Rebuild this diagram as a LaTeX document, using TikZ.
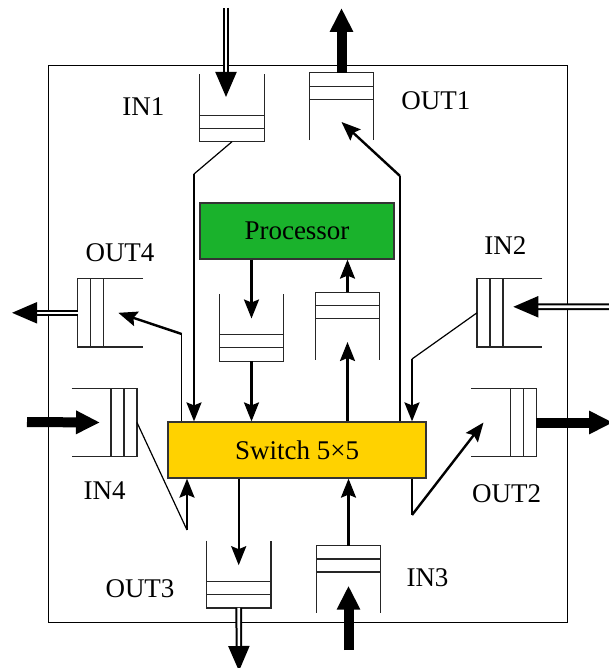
\documentclass[tikz,border=0pt]{standalone}
\usepackage{fontspec}
\setmainfont{Liberation Serif}
\usepackage{xcolor}
\usepackage{tikz}
\usetikzlibrary{arrows.meta}
\definecolor{procgreen}{RGB}{26,178,44}
\definecolor{swyellow}{RGB}{255,210,0}

% FIFO outlines, the letter gives the open side
\newcommand{\fifoN}[1]{\draw[qline] (#1.north west) -- (#1.south west) -- (#1.south east) -- (#1.north east)
  ([yshift=13.5pt]#1.south west) -- ([yshift=13.5pt]#1.south east)
  ([yshift=26.5pt]#1.south west) -- ([yshift=26.5pt]#1.south east);}
\newcommand{\fifoS}[1]{\draw[qline] (#1.south west) -- (#1.north west) -- (#1.north east) -- (#1.south east)
  ([yshift=-13.5pt]#1.north west) -- ([yshift=-13.5pt]#1.north east)
  ([yshift=-26.5pt]#1.north west) -- ([yshift=-26.5pt]#1.north east);}
\newcommand{\fifoE}[1]{\draw[qline] (#1.north east) -- (#1.north west) -- (#1.south west) -- (#1.south east)
  ([xshift=13pt]#1.north west) -- ([xshift=13pt]#1.south west)
  ([xshift=26pt]#1.north west) -- ([xshift=26pt]#1.south west);}
\newcommand{\fifoW}[1]{\draw[qline] (#1.north west) -- (#1.north east) -- (#1.south east) -- (#1.south west)
  ([xshift=-13pt]#1.north east) -- ([xshift=-13pt]#1.south east)
  ([xshift=-26pt]#1.north east) -- ([xshift=-26pt]#1.south east);}

\begin{document}
\begin{tikzpicture}[x=1pt,y=-1pt,
  qline/.style={line width=1.3pt, black!85},
  fifov/.style={minimum width=64pt, minimum height=67pt, inner sep=0pt},
  fifoh/.style={minimum width=65pt, minimum height=68pt, inner sep=0pt},
  unit/.style={draw=black!80, line width=1.2pt, minimum height=56pt, inner sep=0pt,
    font=\fontsize{27}{31}\selectfont},
  lbl/.style={font=\fontsize{27}{31}\selectfont, inner sep=0pt},
  wire/.style={line width=1.2pt},
  flow/.style={line width=2.4pt, -{Stealth[length=19pt,width=15pt,inset=3pt]}},
  fat/.style={line width=10pt, -{Triangle[length=24pt,width=22pt]}},
  dbl/.style={line width=2pt, double, double distance=2.6pt, -{Triangle[length=25pt,width=21pt]}}]
  \useasboundingbox (0,0) rectangle (609,668);

  % router frame
  \draw[line width=1pt] (48,66) rectangle (567,622);

  % processor and switch
  \node[unit, fill=procgreen, minimum width=194pt] (proc) at (297,231) {Processor};
  \node[unit, fill=swyellow, minimum width=258pt] (sw) at (297,450) {Switch 5×5};

  % FIFOs
  \node[fifov] (in1) at (232,108) {};      \fifoN{in1}
  \node[fifov] (out1) at (341.5,106.5) {}; \fifoS{out1}
  \node[fifov] (pout) at (251.5,327.5) {}; \fifoN{pout}
  \node[fifov] (pin) at (347.5,326) {};    \fifoS{pin}
  \node[fifov] (out3) at (238.7,574.2) {}; \fifoN{out3}
  \node[fifov] (in3) at (348.5,579.2) {};  \fifoS{in3}
  \node[fifoh] (in2) at (509.7,312.8) {};  \fifoE{in2}
  \node[fifoh] (out2) at (503.5,422.5) {}; \fifoW{out2}
  \node[fifoh] (out4) at (110.3,312.8) {}; \fifoE{out4}
  \node[fifoh] (in4) at (104.3,422.5) {};  \fifoW{in4}

  % port labels
  \node[lbl] (lin1) at (143.3,106.7) {IN1};
  \node[lbl] (lout1) at (435.8,100.8) {OUT1};
  \node[lbl] (lout4) at (120,252.5) {OUT4};
  \node[lbl] (lin2) at (505.3,245.8) {IN2};
  \node[lbl] (lin4) at (104.7,491) {IN4};
  \node[lbl] (lout2) at (506.7,493.3) {OUT2};
  \node[lbl] (lout3) at (140,588.7) {OUT3};
  \node[lbl] (lin3) at (427.5,578) {IN3};

  % bends of the inner links
  \coordinate (b1) at (194,174);
  \coordinate (b2) at (400,176);
  \coordinate (b3) at (412,359);
  \coordinate (b4) at (412,515);
  \coordinate (b5) at (181.7,334);
  \coordinate (b6) at (187,530);

  % inner links
  \draw[wire] (in1.south) -- (b1);
  \draw[flow] (b1) -- (b1 |- sw.north);
  \draw[wire] (b2 |- sw.north) -- (b2);
  \draw[flow] (b2) -- ([yshift=-15.5pt]out1.center);
  \draw[flow] (proc.south -| pout) -- ([yshift=9pt]pout.center);
  \draw[flow] (pout.south) -- (pout.south |- sw.north);
  \draw[flow] (pin.north) -- (pin.north |- proc.south);
  \draw[flow] (pin.south |- sw.north) -- ([yshift=-16pt]pin.center);
  \draw[wire] (in2.west) -- (b3);
  \draw[flow] (b3) -- (b3 |- sw.north);
  \draw[wire] (b4 |- sw.south) -- (b4);
  \draw[flow] (b4) -- ([xshift=-20pt]out2.center);
  \draw[wire] (b5 |- sw.north) -- (b5);
  \draw[flow] (b5) -- ([xshift=8pt]out4.center);
  \draw[wire] (in4.east) -- (b6);
  \draw[flow] (b6) -- (b6 |- sw.south);
  \draw[flow] (out3.north |- sw.south) -- ([yshift=9pt]out3.center);
  \draw[flow] (in3.north) -- (in3.north |- sw.south);

  % outside links
  \coordinate (in1src) at (226,8);
  \coordinate (out1dst) at (341.5,8);
  \coordinate (in2src) at (612,306.7);
  \coordinate (out2dst) at (613,422.5);
  \coordinate (out3dst) at (239,671);
  \coordinate (in3src) at (348.5,650);
  \coordinate (out4dst) at (12,312.8);
  \coordinate (in4src) at (27,422);
  \draw[dbl] (in1src) -- ([xshift=-6pt,yshift=11pt]in1.center);
  \draw[fat] (out1.north) -- (out1dst);
  \draw[dbl] (in2src) -- ([xshift=3.6pt,yshift=6pt]in2.center);
  \draw[fat] (out2.east) -- (out2dst);
  \draw[dbl] (out3.south) -- (out3dst);
  \draw[fat] (in3src) -- ([yshift=-6.5pt]in3.center);
  \draw[dbl] (out4.west) -- (out4dst);
  \draw[fat] (in4src) -- ([xshift=-4.3pt]in4.center);
\end{tikzpicture}
\end{document}
